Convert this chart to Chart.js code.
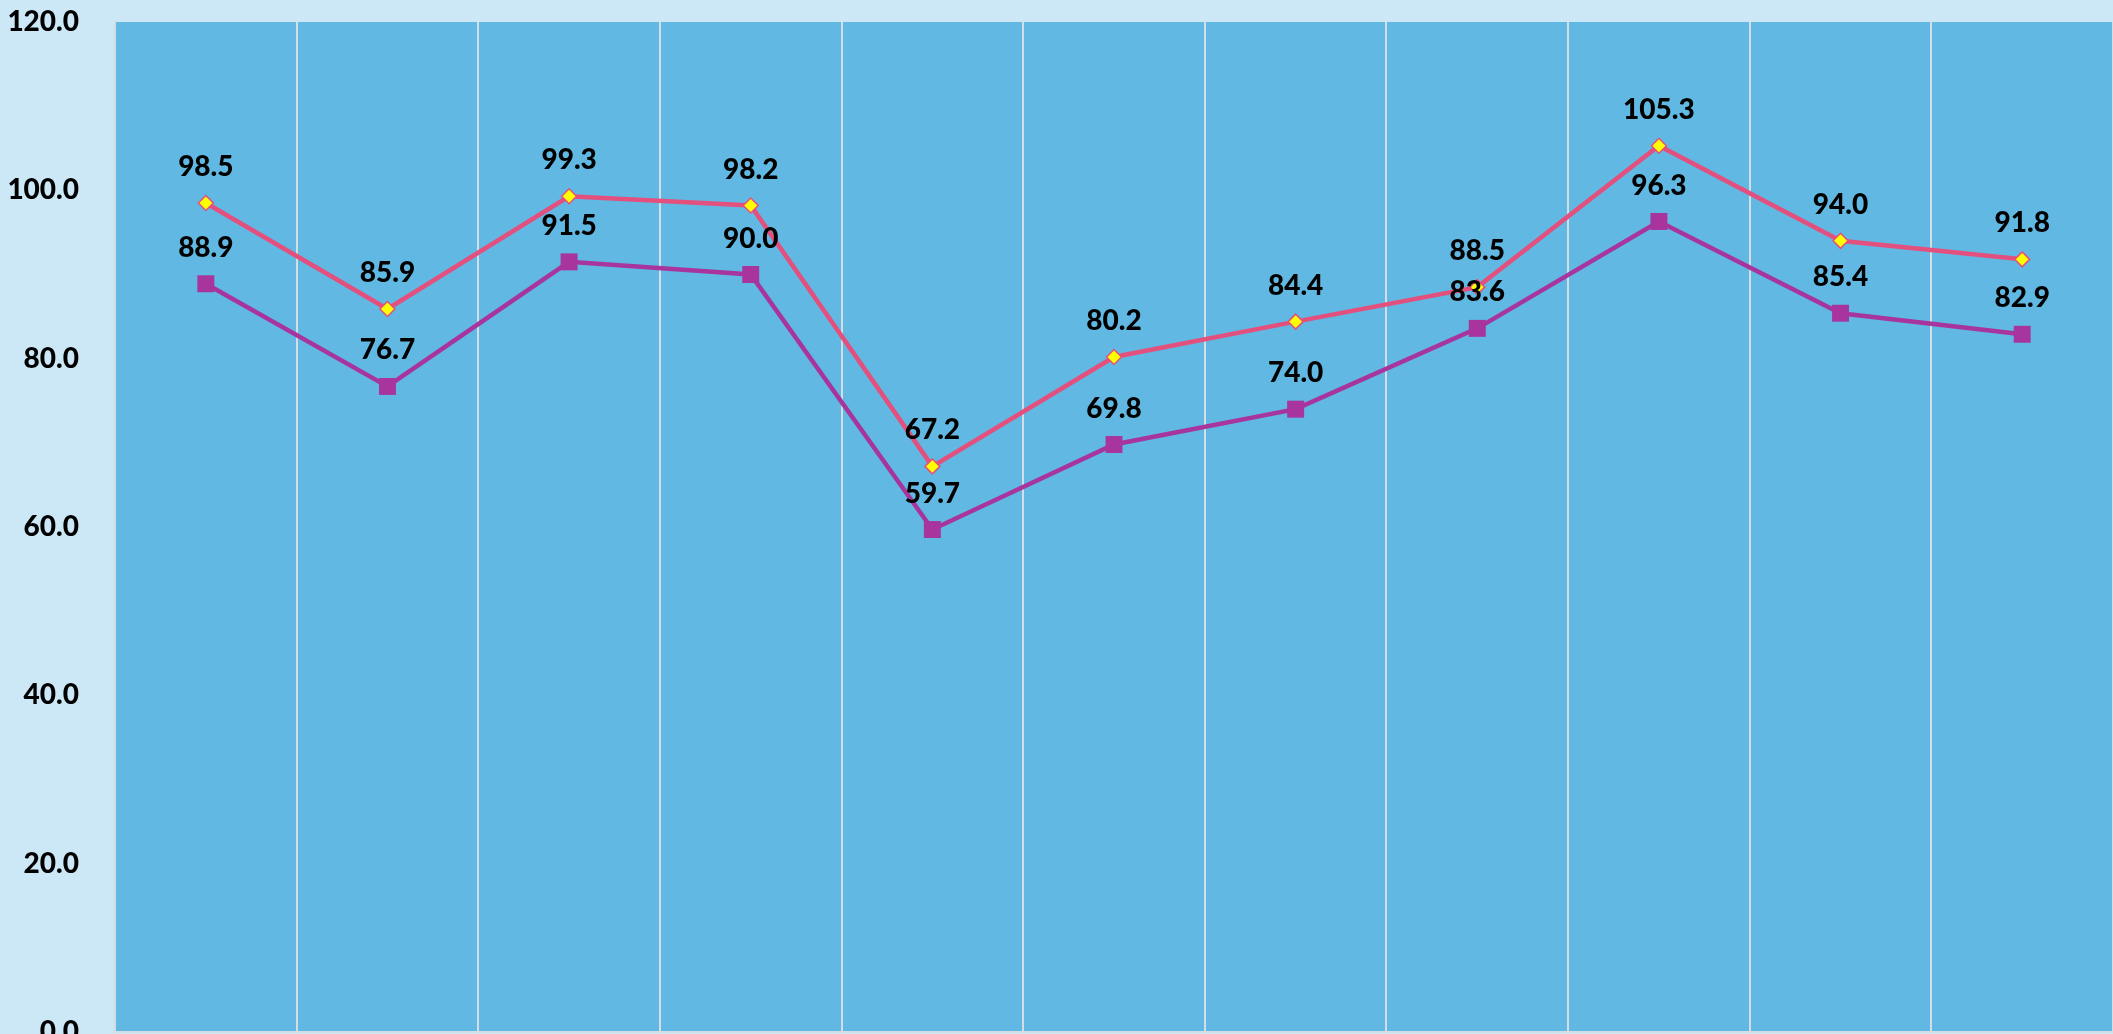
<!DOCTYPE html>
<html>
<head>
<meta charset="utf-8">
<script src="https://cdn.jsdelivr.net/npm/chart.js@4.4.0/dist/chart.umd.min.js"></script>
<style>
  html, body { margin: 0; padding: 0; background: #cce8f6; overflow: hidden; }
  #wrap { width: 2113px; height: 1034px; position: relative; }
  #lineChart { display: block; }
</style>
</head>
<body>
<div id="wrap"><canvas id="lineChart"></canvas></div>
<script>
var labels = ['1', '2', '3', '4', '5', '6', '7', '8', '9', '10', '11'];
var seriesA = [98.5, 85.9, 99.3, 98.2, 67.2, 80.2, 84.4, 88.5, 105.3, 94.0, 91.8];
var seriesB = [88.9, 76.7, 91.5, 90.0, 59.7, 69.8, 74.0, 83.6, 96.3, 85.4, 82.9];
var yTicks = [0, 20, 40, 60, 80, 100, 120];

var fontFamily = 'Lato, "Noto Sans", sans-serif';

// fill the plot area
var plotBg = {
    id: 'plotBg',
    beforeDraw: function(chart) {
        var a = chart.chartArea, ctx = chart.ctx;
        ctx.save();
        ctx.fillStyle = '#61b8e3';
        ctx.fillRect(a.left, a.top, a.right - a.left, a.bottom - a.top);
        ctx.restore();
    }
};

// value labels above each point
var valueLabels = {
    id: 'valueLabels',
    afterDatasetsDraw: function(chart) {
        var ctx = chart.ctx;
        ctx.save();
        ctx.font = '900 28px ' + fontFamily;
        ctx.fillStyle = '#000';
        ctx.textAlign = 'center';
        ctx.textBaseline = 'middle';
        chart.data.datasets.forEach(function(ds, i) {
            var meta = chart.getDatasetMeta(i);
            meta.data.forEach(function(pt, j) {
                ctx.fillText(ds.data[j].toFixed(1), pt.x, pt.y - 36);
            });
        });
        ctx.restore();
    }
};

var ctx = document.getElementById('lineChart').getContext('2d');
var chart = new Chart(ctx, {
    type: 'line',
    data: {
        labels: labels,
        datasets: [{
            label: 'A',
            data: seriesA,
            borderColor: '#e4507e',
            borderWidth: 4.5,
            pointStyle: 'rectRot',
            pointRadius: 7.5,
            pointBackgroundColor: '#ffff00',
            pointBorderColor: '#e4507e',
            pointBorderWidth: 1.5,
            tension: 0
        }, {
            label: 'B',
            data: seriesB,
            borderColor: '#a8359d',
            borderWidth: 4.5,
            pointStyle: 'rect',
            pointRadius: 12,
            pointBackgroundColor: '#a8359d',
            pointBorderColor: '#a8359d',
            pointBorderWidth: 0,
            tension: 0
        }]
    },
    options: {
        responsive: true,
        maintainAspectRatio: false,
        animation: false,
        layout: { autoPadding: false, padding: { top: 22, right: 0, bottom: 0, left: 0 } },
        plugins: { legend: { display: false }, tooltip: { enabled: false } },
        scales: {
            x: {
                offset: true,
                grid: { offset: true, color: '#d4dde3', lineWidth: 2, drawTicks: false },
                border: { color: '#d4dde3', width: 2 },
                ticks: { display: false },
                afterFit: function(s) { s.height = 2; s.paddingLeft = 0; s.paddingRight = 0; }
            },
            y: {
                min: 0,
                max: 120,
                afterBuildTicks: function(s) { s.ticks = yTicks.map(function(v) { return { value: v }; }); },
                grid: { display: false },
                border: { color: '#d4dde3', width: 2 },
                ticks: {
                    padding: 28,
                    color: '#000',
                    font: { family: fontFamily, size: 28, weight: '900' },
                    callback: function(v) { return Number(v).toFixed(1); }
                },
                afterFit: function(s) { s.width = 115; s.paddingTop = 0; s.paddingBottom = 0; }
            }
        }
    },
    plugins: [plotBg, valueLabels]
});
</script>
</body>
</html>
